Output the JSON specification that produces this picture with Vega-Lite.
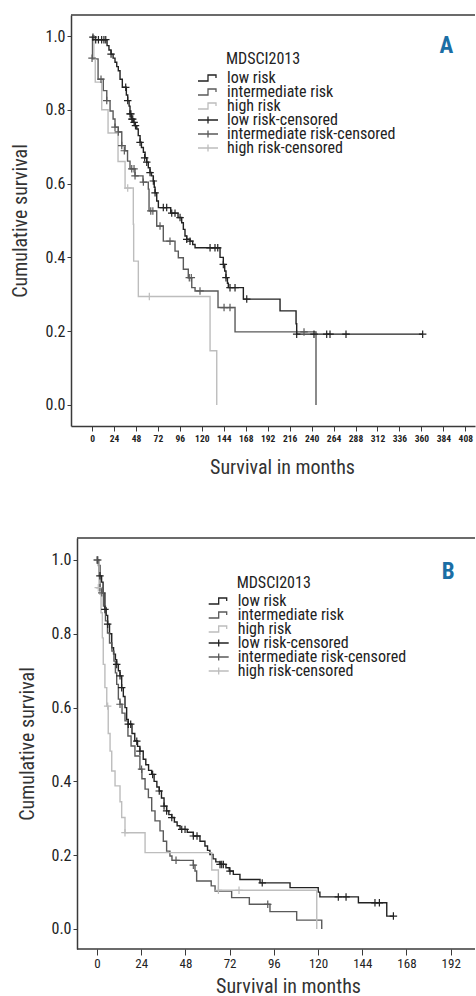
{
  "$schema": "https://vega.github.io/schema/vega-lite/v6.json",
  "padding": {"left": 10, "top": 14, "right": 0, "bottom": 0},
  "spacing": 60,
  "config": {
    "font": "Liberation Sans Narrow, Roboto Condensed, DejaVu Sans Condensed, Arial Narrow, sans-serif",
    "view": {"stroke": null},
    "axis": {"grid": false, "labelOverlap": false, "labelBound": false, "domainColor": "#3a3a3a", "domainWidth": 1.5, "tickColor": "#3a3a3a", "tickWidth": 1, "labelColor": "#222222", "titleColor": "#333333", "titleFontWeight": "normal", "labelFont": "Liberation Sans Narrow, Roboto Condensed, DejaVu Sans Condensed, Arial Narrow, sans-serif", "titleFont": "Liberation Sans Narrow, Roboto Condensed, DejaVu Sans Condensed, Arial Narrow, sans-serif"},
    "legend": {"labelFont": "Liberation Sans Narrow, Roboto Condensed, DejaVu Sans Condensed, Arial Narrow, sans-serif"}
  },
  "resolve": {"scale": {"color": "independent"}, "legend": {"color": "independent"}},
  "datasets": {
    "aLines": [
      {"group": "low risk", "month": 0, "survival": 1.0},
      {"group": "low risk", "month": 2, "survival": 0.99},
      {"group": "low risk", "month": 16.4, "survival": 0.974},
      {"group": "low risk", "month": 18.5, "survival": 0.962},
      {"group": "low risk", "month": 20.8, "survival": 0.951},
      {"group": "low risk", "month": 23, "survival": 0.94},
      {"group": "low risk", "month": 25.1, "survival": 0.929},
      {"group": "low risk", "month": 27, "survival": 0.917},
      {"group": "low risk", "month": 28.7, "survival": 0.906},
      {"group": "low risk", "month": 30.6, "survival": 0.883},
      {"group": "low risk", "month": 33.1, "survival": 0.861},
      {"group": "low risk", "month": 37.5, "survival": 0.84},
      {"group": "low risk", "month": 39, "survival": 0.825},
      {"group": "low risk", "month": 40.5, "survival": 0.81},
      {"group": "low risk", "month": 41.5, "survival": 0.789},
      {"group": "low risk", "month": 43, "survival": 0.775},
      {"group": "low risk", "month": 45.1, "survival": 0.766},
      {"group": "low risk", "month": 47, "survival": 0.757},
      {"group": "low risk", "month": 48.9, "survival": 0.748},
      {"group": "low risk", "month": 50.5, "survival": 0.73},
      {"group": "low risk", "month": 52.5, "survival": 0.712},
      {"group": "low risk", "month": 54, "survival": 0.698},
      {"group": "low risk", "month": 56.1, "survival": 0.685},
      {"group": "low risk", "month": 58, "survival": 0.67},
      {"group": "low risk", "month": 59.8, "survival": 0.658},
      {"group": "low risk", "month": 61.5, "survival": 0.643},
      {"group": "low risk", "month": 63.4, "survival": 0.63},
      {"group": "low risk", "month": 65, "survival": 0.621},
      {"group": "low risk", "month": 67, "survival": 0.607},
      {"group": "low risk", "month": 68, "survival": 0.59},
      {"group": "low risk", "month": 68.9, "survival": 0.575},
      {"group": "low risk", "month": 70.7, "survival": 0.553},
      {"group": "low risk", "month": 72.5, "survival": 0.535},
      {"group": "low risk", "month": 86, "survival": 0.52},
      {"group": "low risk", "month": 94, "survival": 0.508},
      {"group": "low risk", "month": 98, "survival": 0.494},
      {"group": "low risk", "month": 99.8, "survival": 0.476},
      {"group": "low risk", "month": 101.6, "survival": 0.458},
      {"group": "low risk", "month": 103.5, "survival": 0.449},
      {"group": "low risk", "month": 107.1, "survival": 0.444},
      {"group": "low risk", "month": 110, "survival": 0.435},
      {"group": "low risk", "month": 112.6, "survival": 0.426},
      {"group": "low risk", "month": 139.9, "survival": 0.4},
      {"group": "low risk", "month": 143.5, "survival": 0.381},
      {"group": "low risk", "month": 145, "survival": 0.363},
      {"group": "low risk", "month": 146.4, "survival": 0.345},
      {"group": "low risk", "month": 148, "survival": 0.33},
      {"group": "low risk", "month": 149, "survival": 0.318},
      {"group": "low risk", "month": 165.4, "survival": 0.287},
      {"group": "low risk", "month": 205.5, "survival": 0.255},
      {"group": "low risk", "month": 223, "survival": 0.22},
      {"group": "low risk", "month": 223.7, "survival": 0.192},
      {"group": "low risk", "month": 361.4, "survival": 0.192},
      {"group": "intermediate risk", "month": 0, "survival": 1.0},
      {"group": "intermediate risk", "month": 0.5, "survival": 0.938},
      {"group": "intermediate risk", "month": 6.6, "survival": 0.883},
      {"group": "intermediate risk", "month": 12.3, "survival": 0.852},
      {"group": "intermediate risk", "month": 16.1, "survival": 0.825},
      {"group": "intermediate risk", "month": 19.7, "survival": 0.797},
      {"group": "intermediate risk", "month": 23, "survival": 0.775},
      {"group": "intermediate risk", "month": 25.1, "survival": 0.753},
      {"group": "intermediate risk", "month": 28.7, "survival": 0.74},
      {"group": "intermediate risk", "month": 32.5, "survival": 0.703},
      {"group": "intermediate risk", "month": 36.1, "survival": 0.689},
      {"group": "intermediate risk", "month": 38.8, "survival": 0.661},
      {"group": "intermediate risk", "month": 41.5, "survival": 0.64},
      {"group": "intermediate risk", "month": 47, "survival": 0.621},
      {"group": "intermediate risk", "month": 55.7, "survival": 0.604},
      {"group": "intermediate risk", "month": 61.5, "survival": 0.585},
      {"group": "intermediate risk", "month": 62.3, "survival": 0.526},
      {"group": "intermediate risk", "month": 70.7, "survival": 0.485},
      {"group": "intermediate risk", "month": 77.9, "survival": 0.444},
      {"group": "intermediate risk", "month": 90.7, "survival": 0.417},
      {"group": "intermediate risk", "month": 94.3, "survival": 0.399},
      {"group": "intermediate risk", "month": 99.8, "survival": 0.368},
      {"group": "intermediate risk", "month": 105.2, "survival": 0.345},
      {"group": "intermediate risk", "month": 109, "survival": 0.318},
      {"group": "intermediate risk", "month": 112.6, "survival": 0.309},
      {"group": "intermediate risk", "month": 137.7, "survival": 0.264},
      {"group": "intermediate risk", "month": 156.3, "survival": 0.198},
      {"group": "intermediate risk", "month": 244.8, "survival": 0.0},
      {"group": "high risk", "month": 0, "survival": 1.0},
      {"group": "high risk", "month": 2, "survival": 0.94},
      {"group": "high risk", "month": 3.5, "survival": 0.875},
      {"group": "high risk", "month": 10.6, "survival": 0.8},
      {"group": "high risk", "month": 17.5, "survival": 0.737},
      {"group": "high risk", "month": 28.4, "survival": 0.66},
      {"group": "high risk", "month": 36.1, "survival": 0.588},
      {"group": "high risk", "month": 45.1, "survival": 0.49},
      {"group": "high risk", "month": 45.5, "survival": 0.39},
      {"group": "high risk", "month": 50.6, "survival": 0.294},
      {"group": "high risk", "month": 129, "survival": 0.147},
      {"group": "high risk", "month": 136.3, "survival": 0.0}
    ],
    "aCens": [
      {"group": "low risk-censored", "month": 1, "survival": 0.997},
      {"group": "low risk-censored", "month": 4, "survival": 0.99},
      {"group": "low risk-censored", "month": 7, "survival": 0.99},
      {"group": "low risk-censored", "month": 10.5, "survival": 0.99},
      {"group": "low risk-censored", "month": 13, "survival": 0.99},
      {"group": "low risk-censored", "month": 15, "survival": 0.99},
      {"group": "low risk-censored", "month": 20.8, "survival": 0.951},
      {"group": "low risk-censored", "month": 36.8, "survival": 0.861},
      {"group": "low risk-censored", "month": 39, "survival": 0.825},
      {"group": "low risk-censored", "month": 41.5, "survival": 0.789},
      {"group": "low risk-censored", "month": 42.5, "survival": 0.789},
      {"group": "low risk-censored", "month": 43.5, "survival": 0.775},
      {"group": "low risk-censored", "month": 44.5, "survival": 0.775},
      {"group": "low risk-censored", "month": 46, "survival": 0.766},
      {"group": "low risk-censored", "month": 47.5, "survival": 0.757},
      {"group": "low risk-censored", "month": 52.5, "survival": 0.712},
      {"group": "low risk-censored", "month": 57.5, "survival": 0.67},
      {"group": "low risk-censored", "month": 59.8, "survival": 0.658},
      {"group": "low risk-censored", "month": 63.4, "survival": 0.63},
      {"group": "low risk-censored", "month": 67, "survival": 0.607},
      {"group": "low risk-censored", "month": 68.9, "survival": 0.575},
      {"group": "low risk-censored", "month": 77.9, "survival": 0.535},
      {"group": "low risk-censored", "month": 81.6, "survival": 0.535},
      {"group": "low risk-censored", "month": 87.1, "survival": 0.52},
      {"group": "low risk-censored", "month": 90.7, "survival": 0.52},
      {"group": "low risk-censored", "month": 96.2, "survival": 0.508},
      {"group": "low risk-censored", "month": 103.5, "survival": 0.449},
      {"group": "low risk-censored", "month": 107.1, "survival": 0.444},
      {"group": "low risk-censored", "month": 129, "survival": 0.426},
      {"group": "low risk-censored", "month": 134.4, "survival": 0.426},
      {"group": "low risk-censored", "month": 137.4, "survival": 0.426},
      {"group": "low risk-censored", "month": 143.5, "survival": 0.381},
      {"group": "low risk-censored", "month": 146.4, "survival": 0.345},
      {"group": "low risk-censored", "month": 150.8, "survival": 0.318},
      {"group": "low risk-censored", "month": 156.3, "survival": 0.318},
      {"group": "low risk-censored", "month": 169.1, "survival": 0.287},
      {"group": "low risk-censored", "month": 223.7, "survival": 0.192},
      {"group": "low risk-censored", "month": 242.6, "survival": 0.192},
      {"group": "low risk-censored", "month": 256.5, "survival": 0.192},
      {"group": "low risk-censored", "month": 260.1, "survival": 0.192},
      {"group": "low risk-censored", "month": 277.6, "survival": 0.192},
      {"group": "low risk-censored", "month": 361.4, "survival": 0.192},
      {"group": "intermediate risk-censored", "month": 0, "survival": 0.94},
      {"group": "intermediate risk-censored", "month": 9.8, "survival": 0.883},
      {"group": "intermediate risk-censored", "month": 16.1, "survival": 0.825},
      {"group": "intermediate risk-censored", "month": 25.1, "survival": 0.753},
      {"group": "intermediate risk-censored", "month": 28.7, "survival": 0.74},
      {"group": "intermediate risk-censored", "month": 32.5, "survival": 0.703},
      {"group": "intermediate risk-censored", "month": 35.3, "survival": 0.689},
      {"group": "intermediate risk-censored", "month": 43.4, "survival": 0.64},
      {"group": "intermediate risk-censored", "month": 45.9, "survival": 0.64},
      {"group": "intermediate risk-censored", "month": 47, "survival": 0.621},
      {"group": "intermediate risk-censored", "month": 56.1, "survival": 0.604},
      {"group": "intermediate risk-censored", "month": 64.2, "survival": 0.526},
      {"group": "intermediate risk-censored", "month": 66.5, "survival": 0.526},
      {"group": "intermediate risk-censored", "month": 74.3, "survival": 0.485},
      {"group": "intermediate risk-censored", "month": 85.2, "survival": 0.444},
      {"group": "intermediate risk-censored", "month": 106.3, "survival": 0.345},
      {"group": "intermediate risk-censored", "month": 108.5, "survival": 0.345},
      {"group": "intermediate risk-censored", "month": 118, "survival": 0.309},
      {"group": "intermediate risk-censored", "month": 144.3, "survival": 0.264},
      {"group": "intermediate risk-censored", "month": 150.8, "survival": 0.264},
      {"group": "intermediate risk-censored", "month": 231.7, "survival": 0.198},
      {"group": "high risk-censored", "month": 39, "survival": 0.588},
      {"group": "high risk-censored", "month": 62.6, "survival": 0.294}
    ],
    "bLines": [
      {"group": "low risk", "month": 0, "survival": 1.0},
      {"group": "low risk", "month": 0.8, "survival": 0.985},
      {"group": "low risk", "month": 1.6, "survival": 0.957},
      {"group": "low risk", "month": 2.5, "survival": 0.94},
      {"group": "low risk", "month": 3.3, "survival": 0.91},
      {"group": "low risk", "month": 4.3, "survival": 0.87},
      {"group": "low risk", "month": 5, "survival": 0.85},
      {"group": "low risk", "month": 5.8, "survival": 0.826},
      {"group": "low risk", "month": 6.8, "survival": 0.8},
      {"group": "low risk", "month": 8, "survival": 0.762},
      {"group": "low risk", "month": 9, "survival": 0.745},
      {"group": "low risk", "month": 10, "survival": 0.73},
      {"group": "low risk", "month": 10.7, "survival": 0.717},
      {"group": "low risk", "month": 11.6, "survival": 0.7},
      {"group": "low risk", "month": 12.5, "survival": 0.686},
      {"group": "low risk", "month": 13.4, "survival": 0.654},
      {"group": "low risk", "month": 14.3, "survival": 0.63},
      {"group": "low risk", "month": 15.2, "survival": 0.6},
      {"group": "low risk", "month": 16.1, "survival": 0.568},
      {"group": "low risk", "month": 17, "survival": 0.555},
      {"group": "low risk", "month": 19, "survival": 0.53},
      {"group": "low risk", "month": 20.5, "survival": 0.51},
      {"group": "low risk", "month": 22, "survival": 0.495},
      {"group": "low risk", "month": 23.3, "survival": 0.482},
      {"group": "low risk", "month": 25.1, "survival": 0.46},
      {"group": "low risk", "month": 26.5, "survival": 0.445},
      {"group": "low risk", "month": 28, "survival": 0.43},
      {"group": "low risk", "month": 29.7, "survival": 0.419},
      {"group": "low risk", "month": 31, "survival": 0.4},
      {"group": "low risk", "month": 32.5, "survival": 0.385},
      {"group": "low risk", "month": 33.8, "survival": 0.374},
      {"group": "low risk", "month": 35, "survival": 0.355},
      {"group": "low risk", "month": 36.4, "survival": 0.333},
      {"group": "low risk", "month": 37.8, "survival": 0.32},
      {"group": "low risk", "month": 39, "survival": 0.31},
      {"group": "low risk", "month": 40.6, "survival": 0.302},
      {"group": "low risk", "month": 42, "survival": 0.29},
      {"group": "low risk", "month": 43.5, "survival": 0.28},
      {"group": "low risk", "month": 45.1, "survival": 0.27},
      {"group": "low risk", "month": 49, "survival": 0.262},
      {"group": "low risk", "month": 52.3, "survival": 0.252},
      {"group": "low risk", "month": 55.9, "survival": 0.238},
      {"group": "low risk", "month": 58.6, "survival": 0.225},
      {"group": "low risk", "month": 60, "survival": 0.213},
      {"group": "low risk", "month": 61.3, "survival": 0.202},
      {"group": "low risk", "month": 63, "survival": 0.19},
      {"group": "low risk", "month": 64.5, "survival": 0.182},
      {"group": "low risk", "month": 66.8, "survival": 0.175},
      {"group": "low risk", "month": 70, "survival": 0.166},
      {"group": "low risk", "month": 71.8, "survival": 0.157},
      {"group": "low risk", "month": 74, "survival": 0.148},
      {"group": "low risk", "month": 77.6, "survival": 0.134},
      {"group": "low risk", "month": 88.5, "survival": 0.125},
      {"group": "low risk", "month": 104.8, "survival": 0.112},
      {"group": "low risk", "month": 120.1, "survival": 0.1},
      {"group": "low risk", "month": 121, "survival": 0.087},
      {"group": "low risk", "month": 141.9, "survival": 0.071},
      {"group": "low risk", "month": 157.3, "survival": 0.035},
      {"group": "low risk", "month": 160.9, "survival": 0.035},
      {"group": "intermediate risk", "month": 0, "survival": 1.0},
      {"group": "intermediate risk", "month": 1, "survival": 0.957},
      {"group": "intermediate risk", "month": 1.6, "survival": 0.925},
      {"group": "intermediate risk", "month": 2.6, "survival": 0.911},
      {"group": "intermediate risk", "month": 3.5, "survival": 0.875},
      {"group": "intermediate risk", "month": 4.6, "survival": 0.835},
      {"group": "intermediate risk", "month": 5.7, "survival": 0.802},
      {"group": "intermediate risk", "month": 6.8, "survival": 0.775},
      {"group": "intermediate risk", "month": 8.1, "survival": 0.753},
      {"group": "intermediate risk", "month": 9.2, "survival": 0.726},
      {"group": "intermediate risk", "month": 10, "survival": 0.694},
      {"group": "intermediate risk", "month": 10.7, "survival": 0.663},
      {"group": "intermediate risk", "month": 11.6, "survival": 0.623},
      {"group": "intermediate risk", "month": 12.5, "survival": 0.609},
      {"group": "intermediate risk", "month": 13.6, "survival": 0.585},
      {"group": "intermediate risk", "month": 15.2, "survival": 0.564},
      {"group": "intermediate risk", "month": 16.8, "survival": 0.523},
      {"group": "intermediate risk", "month": 18.5, "survival": 0.496},
      {"group": "intermediate risk", "month": 20.6, "survival": 0.469},
      {"group": "intermediate risk", "month": 23.3, "survival": 0.433},
      {"group": "intermediate risk", "month": 24.4, "survival": 0.407},
      {"group": "intermediate risk", "month": 26.1, "survival": 0.379},
      {"group": "intermediate risk", "month": 27.9, "survival": 0.356},
      {"group": "intermediate risk", "month": 29.7, "survival": 0.32},
      {"group": "intermediate risk", "month": 31.5, "survival": 0.293},
      {"group": "intermediate risk", "month": 34.2, "survival": 0.266},
      {"group": "intermediate risk", "month": 36, "survival": 0.238},
      {"group": "intermediate risk", "month": 37.8, "survival": 0.211},
      {"group": "intermediate risk", "month": 39.6, "survival": 0.198},
      {"group": "intermediate risk", "month": 40.7, "survival": 0.186},
      {"group": "intermediate risk", "month": 52.3, "survival": 0.173},
      {"group": "intermediate risk", "month": 53.2, "survival": 0.157},
      {"group": "intermediate risk", "month": 54.1, "survival": 0.13},
      {"group": "intermediate risk", "month": 62, "survival": 0.117},
      {"group": "intermediate risk", "month": 64.1, "survival": 0.103},
      {"group": "intermediate risk", "month": 73.1, "survival": 0.085},
      {"group": "intermediate risk", "month": 82.7, "survival": 0.067},
      {"group": "intermediate risk", "month": 93.9, "survival": 0.047},
      {"group": "intermediate risk", "month": 108.4, "survival": 0.024},
      {"group": "intermediate risk", "month": 122, "survival": 0.0},
      {"group": "high risk", "month": 0, "survival": 1.0},
      {"group": "high risk", "month": 1.1, "survival": 0.925},
      {"group": "high risk", "month": 1.6, "survival": 0.907},
      {"group": "high risk", "month": 2.2, "survival": 0.857},
      {"group": "high risk", "month": 2.9, "survival": 0.789},
      {"group": "high risk", "month": 3.4, "survival": 0.717},
      {"group": "high risk", "month": 4.3, "survival": 0.654},
      {"group": "high risk", "month": 5.3, "survival": 0.604},
      {"group": "high risk", "month": 6.1, "survival": 0.53},
      {"group": "high risk", "month": 7.1, "survival": 0.482},
      {"group": "high risk", "month": 8, "survival": 0.428},
      {"group": "high risk", "month": 9.8, "survival": 0.388},
      {"group": "high risk", "month": 12.5, "survival": 0.345},
      {"group": "high risk", "month": 13.4, "survival": 0.302},
      {"group": "high risk", "month": 15.2, "survival": 0.261},
      {"group": "high risk", "month": 26.1, "survival": 0.207},
      {"group": "high risk", "month": 62.3, "survival": 0.16},
      {"group": "high risk", "month": 65.9, "survival": 0.105},
      {"group": "high risk", "month": 119.3, "survival": 0.0}
    ],
    "bCens": [
      {"group": "low risk-censored", "month": 0.4, "survival": 1.0},
      {"group": "low risk-censored", "month": 1.6, "survival": 0.957},
      {"group": "low risk-censored", "month": 4.3, "survival": 0.866},
      {"group": "low risk-censored", "month": 5.8, "survival": 0.826},
      {"group": "low risk-censored", "month": 10.7, "survival": 0.717},
      {"group": "low risk-censored", "month": 12.5, "survival": 0.686},
      {"group": "low risk-censored", "month": 13.4, "survival": 0.654},
      {"group": "low risk-censored", "month": 17, "survival": 0.555},
      {"group": "low risk-censored", "month": 18.3, "survival": 0.555},
      {"group": "low risk-censored", "month": 21.6, "survival": 0.509},
      {"group": "low risk-censored", "month": 23.3, "survival": 0.482},
      {"group": "low risk-censored", "month": 30.2, "survival": 0.419},
      {"group": "low risk-censored", "month": 33.8, "survival": 0.374},
      {"group": "low risk-censored", "month": 36.4, "survival": 0.333},
      {"group": "low risk-censored", "month": 37.8, "survival": 0.32},
      {"group": "low risk-censored", "month": 40.6, "survival": 0.302},
      {"group": "low risk-censored", "month": 46, "survival": 0.27},
      {"group": "low risk-censored", "month": 47.8, "survival": 0.27},
      {"group": "low risk-censored", "month": 52.3, "survival": 0.252},
      {"group": "low risk-censored", "month": 54.3, "survival": 0.252},
      {"group": "low risk-censored", "month": 66.8, "survival": 0.175},
      {"group": "low risk-censored", "month": 67.7, "survival": 0.175},
      {"group": "low risk-censored", "month": 68.6, "survival": 0.175},
      {"group": "low risk-censored", "month": 72.2, "survival": 0.157},
      {"group": "low risk-censored", "month": 89.7, "survival": 0.125},
      {"group": "low risk-censored", "month": 131, "survival": 0.087},
      {"group": "low risk-censored", "month": 135.2, "survival": 0.087},
      {"group": "low risk-censored", "month": 150.9, "survival": 0.071},
      {"group": "low risk-censored", "month": 153.3, "survival": 0.071},
      {"group": "low risk-censored", "month": 160.9, "survival": 0.035},
      {"group": "intermediate risk-censored", "month": 0, "survival": 1.0},
      {"group": "intermediate risk-censored", "month": 1.6, "survival": 0.925},
      {"group": "intermediate risk-censored", "month": 2.6, "survival": 0.911},
      {"group": "intermediate risk-censored", "month": 12.5, "survival": 0.609},
      {"group": "intermediate risk-censored", "month": 24.2, "survival": 0.433},
      {"group": "intermediate risk-censored", "month": 42.9, "survival": 0.186},
      {"group": "intermediate risk-censored", "month": 52.3, "survival": 0.173},
      {"group": "intermediate risk-censored", "month": 92.7, "survival": 0.067},
      {"group": "high risk-censored", "month": 0.7, "survival": 0.925},
      {"group": "high risk-censored", "month": 5.8, "survival": 0.604},
      {"group": "high risk-censored", "month": 15.2, "survival": 0.261},
      {"group": "high risk-censored", "month": 65.9, "survival": 0.105},
      {"group": "high risk-censored", "month": 77.1, "survival": 0.105}
    ]
  },
  "vconcat": [
    {
      "width": 404,
      "height": 411,
      "layer": [
        {
          "data": {"name": "aLines"},
          "mark": {"type": "line", "interpolate": "step-after", "strokeWidth": 1.4},
          "encoding": {
            "x": {"field": "month", "type": "quantitative",
              "scale": {"domain": [-23, 418.6], "nice": false, "zero": false},
              "axis": {"values": [0, 24, 48, 72, 96, 120, 144, 168, 192, 216, 240, 264, 288, 312, 336, 360, 384, 408], "tickCount": 40, "labelFontSize": 9.5, "labelFontWeight": "bold", "tickSize": 5, "labelPadding": 2, "labelFlush": false, "labelOverlap": false, "labelBound": false, "title": "Survival in months", "titleFontSize": 20, "titleX": 211, "titleY": 41, "titleBaseline": "middle", "titleAlign": "center"}},
            "y": {"field": "survival", "type": "quantitative",
              "scale": {"domain": [-0.057, 1.057], "nice": false, "zero": false},
              "axis": {"values": [0, 0.2, 0.4, 0.6, 0.8, 1], "tickCount": 20, "format": ".1f", "labelFontSize": 16, "tickSize": 4, "labelPadding": 2, "title": "Cumulative survival", "titleFontSize": 20, "titleX": -51, "titleY": 205.5, "titleBaseline": "middle", "titleAlign": "center", "titleAngle": -90}},
            "color": {"field": "group", "type": "nominal",
              "scale": {"domain": ["low risk", "intermediate risk", "high risk", "low risk-censored", "intermediate risk-censored", "high risk-censored"], "range": ["#222222", "#5a5a5a", "#bdbdbd", "#222222", "#5a5a5a", "#bdbdbd"]},
              "legend": {"orient": "none", "legendX": 126, "legendY": 57.8, "title": null, "padding": 0, "symbolSize": 400, "clipHeight": 10.4, "rowPadding": -6, "labelOffset": 8, "labelFontSize": 16, "labelColor": "#222222", "labelLimit": 300, "symbolStrokeWidth": 1.3,
                "encode": {"symbols": {"update": {"shape": {"signal": "indexof(datum.value, 'censored') >= 0 ? 'M-1,0H1M0,-0.35V0.35' : 'M-1,0.3H0V-0.3H0.8V0'"}, "fill": {"value": "transparent"}}}}}}
          }
        },
        {
          "data": {"name": "aCens"},
          "mark": {"type": "point", "shape": "M-1,0H1M0,-1V1", "size": 56, "filled": false, "strokeWidth": 1.2, "opacity": 1},
          "encoding": {
            "x": {"field": "month", "type": "quantitative"},
            "y": {"field": "survival", "type": "quantitative"},
            "color": {"field": "group", "type": "nominal"}
          }
        },
        {
          "data": {"values": [{}]},
          "mark": {"type": "rule", "color": "#3a3a3a", "strokeWidth": 1.5},
          "encoding": {"x": {"datum": -23}, "x2": {"datum": 418.6}, "y": {"datum": 1.057}}
        },
        {
          "data": {"values": [{}]},
          "mark": {"type": "text", "align": "left", "baseline": "middle", "fontSize": 16, "color": "#222222"},
          "encoding": {"x": {"datum": 146.4}, "y": {"datum": 0.938}, "text": {"value": "MDSCI2013"}}
        },
        {
          "data": {"values": [{}]},
          "mark": {"type": "text", "align": "center", "baseline": "middle", "fontSize": 23, "fontWeight": "bold", "color": "#1b6ea5"},
          "encoding": {"x": {"datum": 387.4}, "y": {"datum": 0.974}, "text": {"value": "A"}}
        }
      ]
    },
    {
      "width": 404,
      "height": 411,
      "layer": [
        {
          "data": {"name": "bLines"},
          "mark": {"type": "line", "interpolate": "step-after", "strokeWidth": 1.4},
          "encoding": {
            "x": {"field": "month", "type": "quantitative",
              "scale": {"domain": [-14.11, 205.2], "nice": false, "zero": false},
              "axis": {"values": [0, 24, 48, 72, 96, 120, 144, 168, 192], "tickCount": 40, "domain": false, "labelFontSize": 13, "tickSize": 6, "labelPadding": 2, "labelFlush": false, "labelOverlap": false, "title": "Survival in months", "titleFontSize": 20, "titleX": 217, "titleY": 37, "titleBaseline": "middle", "titleAlign": "center"}},
            "y": {"field": "survival", "type": "quantitative",
              "scale": {"domain": [-0.0542, 1.0596], "nice": false, "zero": false},
              "axis": {"values": [0, 0.2, 0.4, 0.6, 0.8, 1], "tickCount": 20, "format": ".1f", "offset": -6, "labelFontSize": 16, "tickSize": 4, "labelPadding": 2, "title": "Cumulative survival", "titleFontSize": 20, "titleX": -50, "titleY": 205.5, "titleBaseline": "middle", "titleAlign": "center", "titleAngle": -90}},
            "color": {"field": "group", "type": "nominal",
              "scale": {"domain": ["low risk", "intermediate risk", "high risk", "low risk-censored", "intermediate risk-censored", "high risk-censored"], "range": ["#222222", "#5a5a5a", "#bdbdbd", "#222222", "#5a5a5a", "#bdbdbd"]},
              "legend": {"orient": "none", "legendX": 136.7, "legendY": 57.8, "title": null, "padding": 0, "symbolSize": 400, "clipHeight": 10.4, "rowPadding": -6, "labelOffset": 8, "labelFontSize": 16, "labelColor": "#222222", "labelLimit": 300, "symbolStrokeWidth": 1.3,
                "encode": {"symbols": {"update": {"shape": {"signal": "indexof(datum.value, 'censored') >= 0 ? 'M-1,0H1M0,-0.35V0.35' : 'M-1,0.3H0V-0.3H0.8V0'"}, "fill": {"value": "transparent"}}}}}}
          }
        },
        {
          "data": {"name": "bCens"},
          "mark": {"type": "point", "shape": "M-1,0H1M0,-1V1", "size": 56, "filled": false, "strokeWidth": 1.2, "opacity": 1},
          "encoding": {
            "x": {"field": "month", "type": "quantitative"},
            "y": {"field": "survival", "type": "quantitative"},
            "color": {"field": "group", "type": "nominal"}
          }
        },
        {
          "data": {"values": [{}]},
          "mark": {"type": "rule", "color": "#3a3a3a", "strokeWidth": 1.5},
          "encoding": {"x": {"datum": -10.86}, "x2": {"datum": 205.2}, "y": {"datum": 1.0596}}
        },
        {
          "data": {"values": [{}]},
          "mark": {"type": "rule", "color": "#3a3a3a", "strokeWidth": 1.5},
          "encoding": {"x": {"datum": -10.86}, "x2": {"datum": 205.2}, "y": {"datum": -0.0542}}
        },
        {
          "data": {"values": [{}]},
          "mark": {"type": "text", "align": "left", "baseline": "middle", "fontSize": 16, "color": "#222222"},
          "encoding": {"x": {"datum": 75.8}, "y": {"datum": 0.938}, "text": {"value": "MDSCI2013"}}
        },
        {
          "data": {"values": [{}]},
          "mark": {"type": "text", "align": "center", "baseline": "middle", "fontSize": 23, "fontWeight": "bold", "color": "#1b6ea5"},
          "encoding": {"x": {"datum": 190.6}, "y": {"datum": 0.9675}, "text": {"value": "B"}}
        }
      ]
    }
  ]
}
